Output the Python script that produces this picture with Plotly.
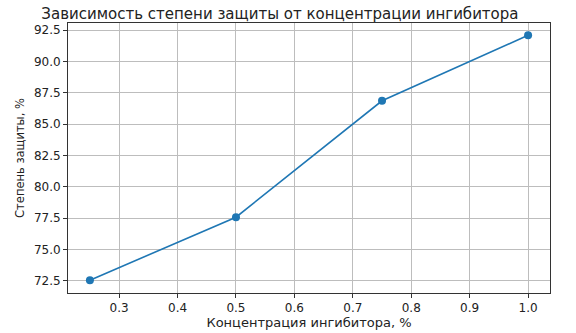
import plotly.graph_objects as go

concentration = [0.25, 0.5, 0.75, 1.0]
protection = [72.55, 77.58, 86.87, 92.1]
x_ticks = [0.3, 0.4, 0.5, 0.6, 0.7, 0.8, 0.9, 1.0]
y_ticks = [72.5, 75.0, 77.5, 80.0, 82.5, 85.0, 87.5, 90.0, 92.5]

fig = go.Figure(go.Scatter(
    x=concentration, y=protection, mode="lines+markers",
    line=dict(color="#1f77b4", width=1.6),
    marker=dict(color="#1f77b4", size=8),
))

axis_common = dict(
    showline=True, linecolor="#333333", linewidth=1, mirror=True,
    ticks="outside", ticklen=4, tickcolor="#333333",
    showgrid=True, gridcolor="#bdbdbd", gridwidth=1, zeroline=False,
    automargin=False,
    tickfont=dict(family="DejaVu Sans", size=12, color="#222222"),
)

fig.update_layout(
    width=576, height=333,
    margin=dict(l=68, r=26, t=23, b=40),
    paper_bgcolor="white", plot_bgcolor="white",
    showlegend=False,
    title=dict(text="Зависимость степени защиты от концентрации ингибитора",
               x=0.486, xanchor="center", y=1 - 14/333, yanchor="middle",
               font=dict(family="DejaVu Sans", size=15, color="#222222")),
    xaxis=dict(axis_common, range=[0.2125, 1.0375], tickvals=x_ticks,
               ticktext=[f"{v:.1f}" for v in x_ticks],
               title=dict(text="Концентрация ингибитора, %", standoff=2,
                          font=dict(family="DejaVu Sans", size=13, color="#222222"))),
    yaxis=dict(axis_common, range=[71.53, 93.08], tickvals=y_ticks,
               ticktext=[f"{v:.1f}" for v in y_ticks],
               title=dict(text="Степень защиты, %", standoff=6,
                          font=dict(family="DejaVu Sans", size=11.5, color="#222222"))),
)

fig.write_html("out.html")
